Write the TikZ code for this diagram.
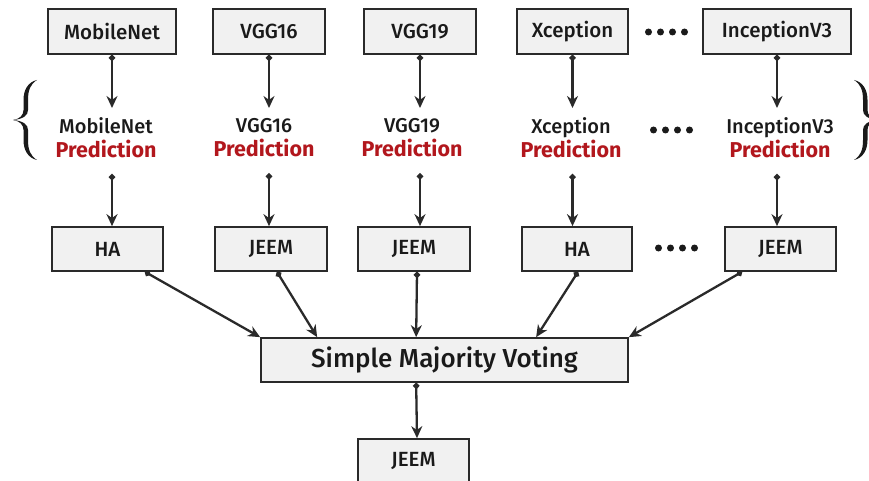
\documentclass[tikz,border=0pt]{standalone}
\usepackage{fontspec}
\setmainfont{Fira Sans Medium}[BoldFont={Fira Sans Bold}]
\usetikzlibrary{arrows.meta,calc}
\definecolor{boxfill}{HTML}{F1F1F1}
\definecolor{boxline}{HTML}{2A2A2A}
\definecolor{inkcol}{HTML}{1A1A1A}
\definecolor{predred}{HTML}{B2171D}
\newcommand{\predword}{{\fontsize{21.5}{24}\selectfont\bfseries\color{predred}Prediction}}
\newcommand{\predname}[1]{\vphantom{bdl}#1}

\begin{document}
\begin{tikzpicture}[x=1pt,y=-1pt,
  box/.style={draw=boxline, fill=boxfill, line width=1.7pt, minimum height=45pt,
    inner sep=0pt, text=inkcol, font=\fontsize{20.5}{24}\selectfont},
  link/.style={draw=boxline, line width=2.3pt,
    {Circle[length=6pt,width=6pt]}-{Stealth[length=12pt,width=11pt]}},
  pred/.style={anchor=north, align=center, inner xsep=0pt, inner ysep=9.5pt,
    text=inkcol, font=\fontsize{20}{24}\selectfont},
  dotmark/.style={fill=inkcol, draw=none},
]
\useasboundingbox (0,0) rectangle (869,481);

% model boxes
\node[box, minimum width=128pt] (m1) at (112,31.5) {MobileNet};
\node[box, minimum width=112pt] (m2) at (269,31.5) {VGG16};
\node[box, minimum width=112pt] (m3) at (420,31.5) {VGG19};
\node[box, minimum width=111pt] (m4) at (572.5,31.5) {Xception};
\node[box, minimum width=148pt] (m5) at (777,31.5) {InceptionV3};

% prediction labels
\node[pred] (p1) at (106,108) {\predname{MobileNet}\\\predword};
\node[pred] (p2) at (264,108) {\predname{VGG16}\\\predword};
\node[pred] (p3) at (412,108) {\predname{VGG19}\\\predword};
\node[pred] (p4) at (571,108) {\predname{Xception}\\\predword};
\node[pred] (p5) at (780,108) {\predname{InceptionV3}\\\predword};

% predicted class boxes
\node[box, minimum width=111pt, minimum height=44pt] (h1) at (107.5,249) {HA};
\node[box, minimum width=112pt, minimum height=44pt] (h2) at (271,249) {JEEM};
\node[box, minimum width=112pt, minimum height=44pt] (h3) at (414,249) {JEEM};
\node[box, minimum width=110pt, minimum height=44pt] (h4) at (577,249) {HA};
\node[box, minimum width=111pt, minimum height=44pt] (h5) at (780.5,249) {JEEM};

% voting and final result
\node[box, minimum width=367pt, minimum height=44pt,
  font=\fontsize{26}{30}\selectfont] (s) at (444.5,360) {Simple Majority Voting};
\node[box, minimum width=111pt] (f) at (413.5,461.5) {JEEM};

% ellipsis marks
\foreach \yy/\xx in {32/648.5, 130/653.5, 248/658.5}
  \foreach \k in {0,1,2,3}
    \fill[dotmark] (\xx+12*\k,\yy) circle (3.5);

% model -> prediction
\foreach \i in {1,...,5}
  \draw[link] (m\i.south) -- (m\i.south |- p\i.north);

% prediction -> class
\foreach \i in {1,...,5}
  \draw[link] ($(p\i.south -| m\i.south)+(0,6.5)$) -- (h\i.north -| m\i.south);

% class -> voting
\draw[link] ($(h1.south)+(37.5,0)$) -- (s.north west);
\draw[link] ($(h2.south)+(6,0)$) -- ($(s.north west)+(57,0)$);
\draw[link] ($(h3.south)+(3,0)$) -- ($(s.north west)+(156,0)$);
\draw[link] ($(h4.south)+(1,0)$) -- ($(s.north west)+(276,0)$);
\draw[link] ($(h5.south)+(-38.5,0)$) -- (s.north east);

% voting -> result
\draw[link] ($(s.south west)+(156,0)$) -- ($(f.north)+(3.5,0)$);

% grouping braces
\fill[inkcol] (37,80) .. controls (28,82) and (23.5,90) .. (23.5,100) -- (23.5,110)
  .. controls (23.5,115) and (20,119) .. (13,120)
  .. controls (20,121) and (23.5,125) .. (23.5,130) -- (23.5,140)
  .. controls (23.5,150) and (28,158) .. (37,160)
  .. controls (30.5,156) and (28,150) .. (28,140) -- (28,130)
  .. controls (28,125) and (24,121) .. (13,120)
  .. controls (24,119) and (28,115) .. (28,110) -- (28,100)
  .. controls (28,90) and (30.5,84) .. (37,80) -- cycle;
\fill[inkcol] (854,80) .. controls (863,82) and (867.5,90) .. (867.5,100) -- (867.5,110)
  .. controls (867.5,115) and (871,119) .. (878,120)
  .. controls (871,121) and (867.5,125) .. (867.5,130) -- (867.5,140)
  .. controls (867.5,150) and (863,158) .. (854,160)
  .. controls (860.5,156) and (863,150) .. (863,140) -- (863,130)
  .. controls (863,125) and (867,121) .. (878,120)
  .. controls (867,119) and (863,115) .. (863,110) -- (863,100)
  .. controls (863,90) and (860.5,84) .. (854,80) -- cycle;
\end{tikzpicture}
\end{document}
